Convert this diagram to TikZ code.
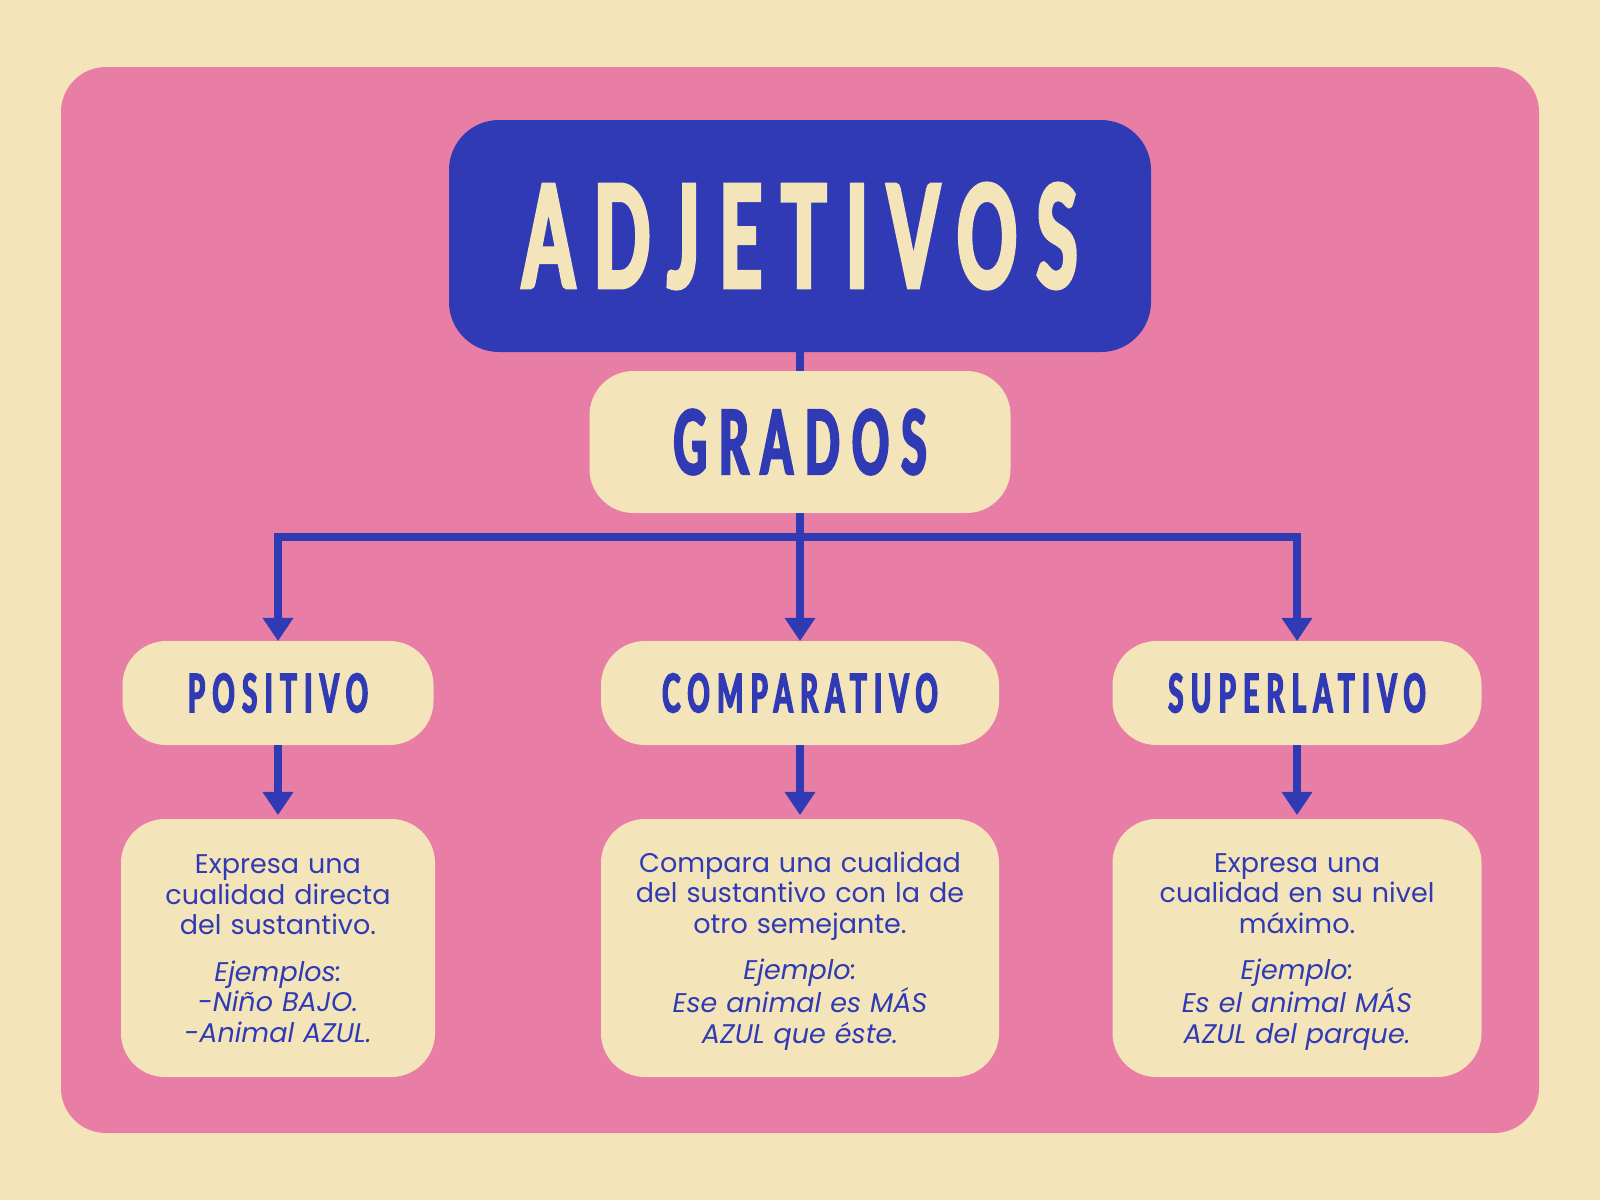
\documentclass[tikz,border=0pt]{standalone}
\usepackage{fontspec}
\setmainfont{Poppins}
\newfontfamily\headfont{Lato}[FakeStretch=0.52,LetterSpace=14,BoldFeatures={FakeBold=3}]
\usetikzlibrary{arrows.meta}
\definecolor{crema}{HTML}{F3E4B9}
\definecolor{rosa}{HTML}{E87EA6}
\definecolor{azul}{HTML}{303AB4}
\tikzset{
	caja/.style={fill=crema, rounded corners=44pt, align=center, inner sep=0pt},
	grado/.style={caja, minimum height=104pt, text=azul,
		font=\headfont\bfseries\fontsize{53}{53}\selectfont},
	definicion/.style={caja, minimum height=258pt, text width=300pt, text height=29pt,
		execute at end node=\strut, text=azul, font=\fontsize{27}{30.5}\selectfont},
	linea/.style={draw=azul, line width=8pt},
	flecha/.style={linea, -{Triangle[width=31pt,length=23pt,line width=0.5pt]}},
}
\begin{document}
\begin{tikzpicture}[x=1pt,y=-1pt]
	\fill[crema] (0,0) rectangle (1600,1200);
	\fill[rosa, rounded corners=45pt] (61,67) rectangle (1539,1133);
	% title and grados
	\node[fill=azul, rounded corners=50pt, minimum width=702pt, minimum height=232pt, text=crema,
		font=\headfont\bfseries\fontsize{142}{142}\selectfont] (adjetivos) at (800,236) {ADJETIVOS};
	\node[caja, minimum width=421pt, minimum height=142pt, text=azul,
		font=\headfont\bfseries\fontsize{88}{88}\selectfont] (grados) at (800,442) {GRADOS};
	% the three degrees
	\node[grado, minimum width=311pt] (positivo) at (278,693) {POSITIVO};
	\node[grado, minimum width=398pt] (comparativo) at (800,693) {COMPARATIVO};
	\node[grado, minimum width=369pt] (superlativo) at (1297,693) {SUPERLATIVO};
	% definitions
	\node[definicion, minimum width=314pt] (defpos) at (278,948)
		{Expresa una\\cualidad directa\\del sustantivo.\\[16pt]
		\itshape Ejemplos:\\-Niño BAJO.\\-Animal AZUL.};
	\node[definicion, minimum width=398pt, text width=370pt] (defcomp) at (800,948)
		{Compara una cualidad\\del sustantivo con la de\\otro semejante.\\[16pt]
		\itshape Ejemplo:\\Ese animal es MÁS\\AZUL que éste.};
	\node[definicion, minimum width=369pt, text width=340pt] (defsup) at (1297,948)
		{Expresa una\\cualidad en su nivel\\máximo.\\[16pt]
		\itshape Ejemplo:\\Es el animal MÁS\\AZUL del parque.};
	% connectors
	\draw[linea] (adjetivos.south) -- (grados.north);
	\draw[flecha] (grados.south) -- (comparativo.north);
	\draw[flecha] (grados.south) -- ++(0,24) -| (positivo.north);
	\draw[flecha] (grados.south) -- ++(0,24) -| (superlativo.north);
	\draw[flecha, shorten >=4pt] (positivo.south) -- (defpos.north);
	\draw[flecha, shorten >=4pt] (comparativo.south) -- (defcomp.north);
	\draw[flecha, shorten >=4pt] (superlativo.south) -- (defsup.north);
\end{tikzpicture}
\end{document}
